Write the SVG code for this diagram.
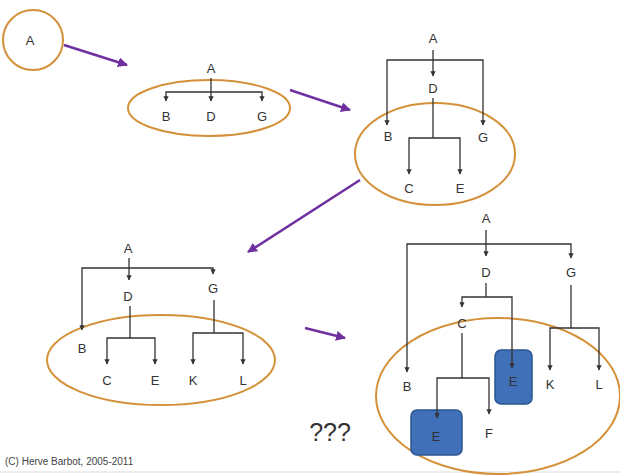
<svg xmlns="http://www.w3.org/2000/svg" width="620" height="476" viewBox="0 0 620 476">
<defs>
<style>
.t{font-family:"Liberation Sans",Arial,sans-serif;font-size:13px;fill:#333;text-anchor:middle}
.ring{fill:none;stroke:#d4913a;stroke-width:2}
.ln{fill:none;stroke:#333;stroke-width:1.3}
.pa{fill:none;stroke:#7030a0;stroke-width:2.5}
.box{fill:#3f70b8;stroke:#2a5590;stroke-width:1.5}
</style>
<marker id="ah" viewBox="0 0 10 10" refX="9" refY="5" markerWidth="4" markerHeight="4" orient="auto-start-reverse"><path d="M0,0L10,5L0,10z" fill="#333"/></marker>
<marker id="pah" viewBox="0 0 10 10" refX="9" refY="5" markerWidth="4" markerHeight="4" orient="auto"><path d="M0,0L10,5L0,10z" fill="#7030a0"/></marker>
</defs>
<rect width="620" height="476" fill="#fff"/>
<line x1="0" y1="472" x2="620" y2="472" stroke="#ddd" stroke-width="1"/>

<g id="stage1">
<circle class="ring" cx="33" cy="40" r="30"/>
<text class="t" x="30" y="45">A</text>
</g>

<g id="stage2">
<ellipse class="ring" cx="209" cy="108" rx="81" ry="28"/>
<text class="t" x="211" y="73">A</text>
<text class="t" x="166" y="121">B</text>
<text class="t" x="211" y="121">D</text>
<text class="t" x="262" y="121">G</text>
</g>

<g id="stage3">
<ellipse class="ring" cx="435" cy="154" rx="80" ry="51"/>
<text class="t" x="433" y="43">A</text>
<text class="t" x="433" y="93">D</text>
<text class="t" x="388" y="141">B</text>
<text class="t" x="483" y="142">G</text>
<text class="t" x="409" y="193">C</text>
<text class="t" x="460" y="193">E</text>
</g>

<g id="stage4">
<ellipse class="ring" cx="161" cy="360" rx="114" ry="45"/>
<text class="t" x="128" y="253">A</text>
<text class="t" x="128" y="301">D</text>
<text class="t" x="213" y="293">G</text>
<text class="t" x="82" y="353">B</text>
<text class="t" x="107" y="385">C</text>
<text class="t" x="155" y="385">E</text>
<text class="t" x="193" y="385">K</text>
<text class="t" x="243" y="385">L</text>
</g>

<g id="stage5">
<ellipse class="ring" cx="498" cy="396" rx="122" ry="78"/>
<rect class="box" x="495" y="350" width="37" height="54" rx="6"/>
<rect class="box" x="411" y="410" width="51" height="45" rx="6"/>
<text class="t" x="486" y="223">A</text>
<text class="t" x="486" y="277">D</text>
<text class="t" x="571" y="277">G</text>
<text class="t" x="462" y="328">C</text>
<text class="t" x="407" y="391">B</text>
<text class="t" x="513" y="386">E</text>
<text class="t" x="550" y="389">K</text>
<text class="t" x="599" y="389">L</text>
<text class="t" x="436" y="441">E</text>
<text class="t" x="489" y="438">F</text>
</g>

<g id="connectors">
<line class="pa" x1="64" y1="45" x2="127" y2="65" marker-end="url(#pah)"/>
<line class="pa" x1="290" y1="90" x2="350" y2="110" marker-end="url(#pah)"/>
<line class="pa" x1="360" y1="180" x2="248" y2="252" marker-end="url(#pah)"/>
<line class="pa" x1="305" y1="328" x2="345" y2="338" marker-end="url(#pah)"/>

<line class="ln" x1="211" y1="78" x2="211" y2="101" marker-end="url(#ah)"/>
<polyline class="ln" points="166,101 166,92 262,92 262,101" marker-start="url(#ah)" marker-end="url(#ah)"/>

<line class="ln" x1="433" y1="50" x2="433" y2="76" marker-end="url(#ah)"/>
<polyline class="ln" points="387,125 387,60 483,60 483,125" marker-start="url(#ah)" marker-end="url(#ah)"/>
<line class="ln" x1="433" y1="98" x2="433" y2="138"/>
<polyline class="ln" points="409,174 409,138 460,138 460,174" marker-start="url(#ah)" marker-end="url(#ah)"/>

<line class="ln" x1="129" y1="258" x2="129" y2="280" marker-end="url(#ah)"/>
<polyline class="ln" points="82,330 82,268 213,268 213,274" marker-start="url(#ah)" marker-end="url(#ah)"/>
<line class="ln" x1="130" y1="306" x2="130" y2="338"/>
<polyline class="ln" points="107,364 107,338 155,338 155,364" marker-start="url(#ah)" marker-end="url(#ah)"/>
<line class="ln" x1="214" y1="300" x2="214" y2="333"/>
<polyline class="ln" points="193,364 193,333 243,333 243,364" marker-start="url(#ah)" marker-end="url(#ah)"/>

<line class="ln" x1="486" y1="230" x2="486" y2="256" marker-end="url(#ah)"/>
<polyline class="ln" points="407,372 407,244 571,244 571,258" marker-start="url(#ah)" marker-end="url(#ah)"/>
<line class="ln" x1="486" y1="283" x2="486" y2="297"/>
<polyline class="ln" points="462,307 462,297 512,297 512,368" marker-start="url(#ah)" marker-end="url(#ah)"/>
<line class="ln" x1="571" y1="285" x2="571" y2="328"/>
<polyline class="ln" points="550,370 550,328 599,328 599,370" marker-start="url(#ah)" marker-end="url(#ah)"/>
<line class="ln" x1="462" y1="333" x2="462" y2="378"/>
<polyline class="ln" points="437,418 437,378 489,378 489,414" marker-start="url(#ah)" marker-end="url(#ah)"/>
</g>

<text x="330" y="441" style="font-family:'Liberation Sans',Arial,sans-serif;font-size:25px;fill:#333;text-anchor:middle">???</text>
<text x="5" y="465" style="font-family:'Liberation Sans',Arial,sans-serif;font-size:10px;fill:#444">(C) Herve Barbot, 2005-2011</text>
</svg>
